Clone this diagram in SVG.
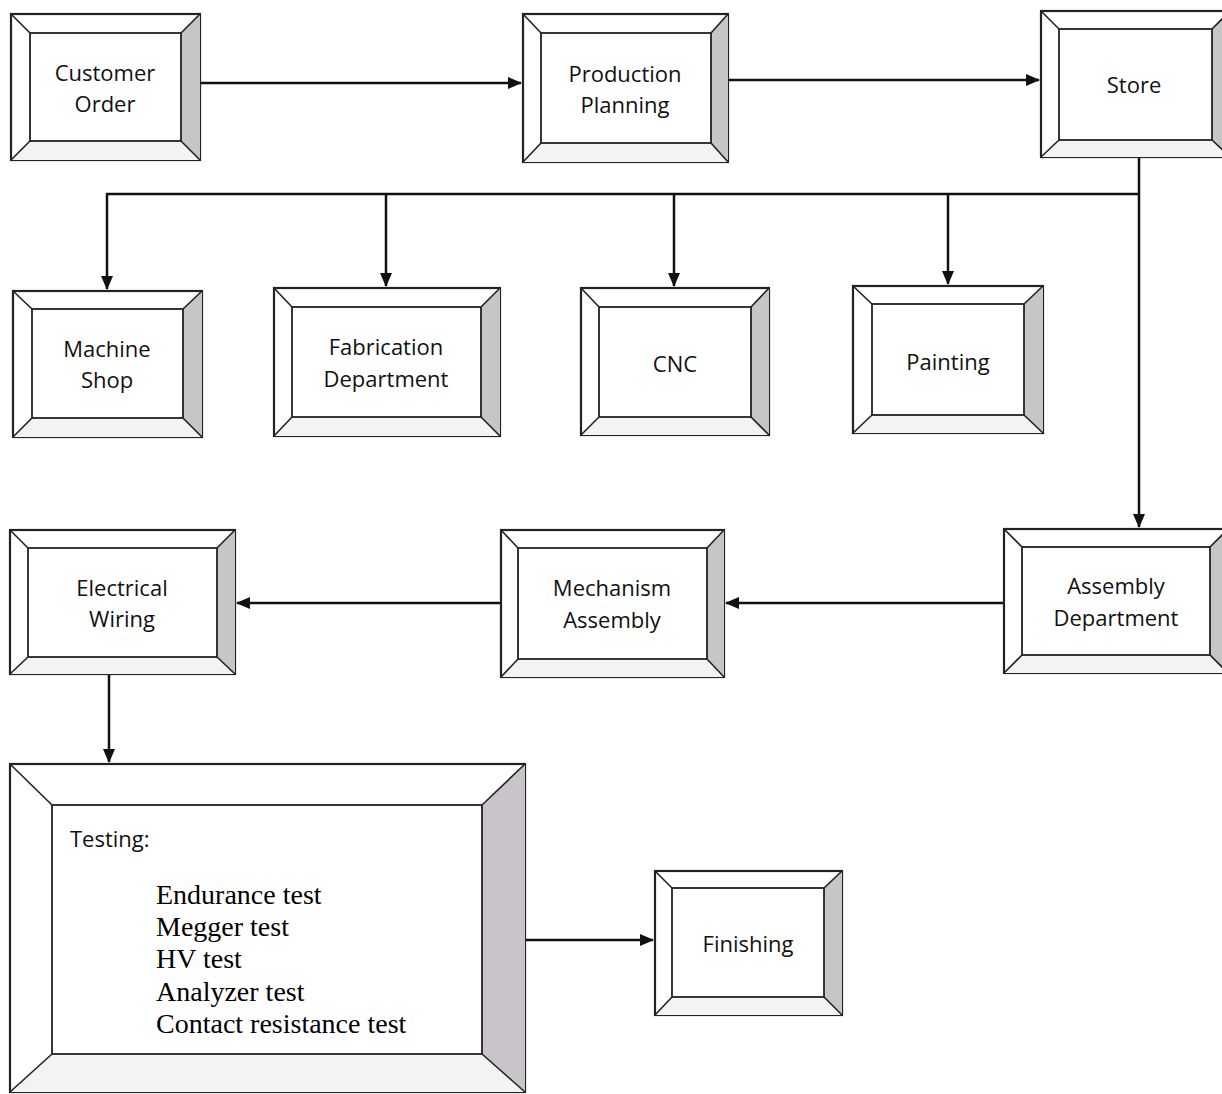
<svg xmlns="http://www.w3.org/2000/svg" width="1222" height="1094" viewBox="0 0 1222 1094">
<style>
.o{fill:#fff;stroke:#222;stroke-width:2.2}
.i{fill:#fff;stroke:#222;stroke-width:1.8}
.rb{fill:#c6c6c6;stroke:none}
.bb{fill:#f3f3f3;stroke:none}
.d{stroke:#222;stroke-width:1.6;fill:none}
.t{font-family:"Open Sans","Liberation Sans",sans-serif;font-size:22px;fill:#111;text-anchor:middle}
.ts{font-family:"Open Sans","Liberation Sans",sans-serif;font-size:22px;fill:#111}
.s{font-family:"Liberation Serif","Times New Roman",serif;font-size:28px;fill:#000}
.c{stroke:#111;stroke-width:2.5;fill:none}
</style>
<defs>
<marker id="ah" markerUnits="userSpaceOnUse" markerWidth="14" markerHeight="12" refX="13" refY="6" orient="auto">
<path d="M0,0 L14,6 L0,12 Z" fill="#111"/>
</marker>
</defs>
<rect width="1222" height="1094" fill="#fff"/>

<g id="connectors">
<line class="c" x1="200" y1="83" x2="521" y2="83" marker-end="url(#ah)"/>
<line class="c" x1="728" y1="80" x2="1039" y2="80" marker-end="url(#ah)"/>
<line class="c" x1="1139" y1="157" x2="1139" y2="527" marker-end="url(#ah)"/>
<line class="c" x1="106" y1="194" x2="1140" y2="194"/>
<line class="c" x1="107" y1="193" x2="107" y2="289" marker-end="url(#ah)"/>
<line class="c" x1="386" y1="193" x2="386" y2="286" marker-end="url(#ah)"/>
<line class="c" x1="674" y1="193" x2="674" y2="286" marker-end="url(#ah)"/>
<line class="c" x1="948" y1="193" x2="948" y2="284" marker-end="url(#ah)"/>
<line class="c" x1="1004" y1="603" x2="726" y2="603" marker-end="url(#ah)"/>
<line class="c" x1="501" y1="603" x2="237" y2="603" marker-end="url(#ah)"/>
<line class="c" x1="109" y1="674" x2="109" y2="762" marker-end="url(#ah)"/>
<line class="c" x1="525" y1="940" x2="653" y2="940" marker-end="url(#ah)"/>
</g>

<g id="customer-order">
<rect class="o" x="11" y="14" width="189" height="146"/>
<polygon class="rb" points="181,33 200,14 200,160 181,141"/>
<polygon class="bb" points="11,160 30,141 181,141 200,160"/>
<rect class="i" x="30" y="33" width="151" height="108"/>
<path class="d" d="M11,14 L30,33 M200,14 L181,33 M11,160 L30,141 M200,160 L181,141"/>
<text class="t" x="105" y="81">Customer</text>
<text class="t" x="105" y="112">Order</text>
</g>

<g id="production-planning">
<rect class="o" x="523" y="14" width="205" height="148"/>
<polygon class="rb" points="711,33 728,14 728,162 711,143"/>
<polygon class="bb" points="523,162 541,143 711,143 728,162"/>
<rect class="i" x="541" y="33" width="170" height="110"/>
<path class="d" d="M523,14 L541,33 M728,14 L711,33 M523,162 L541,143 M728,162 L711,143"/>
<text class="t" x="625" y="82">Production</text>
<text class="t" x="625" y="113">Planning</text>
</g>

<g id="store">
<rect class="o" x="1041" y="11" width="189" height="146"/>
<polygon class="rb" points="1212,29 1230,11 1230,157 1212,140"/>
<polygon class="bb" points="1041,157 1059,140 1212,140 1230,157"/>
<rect class="i" x="1059" y="29" width="153" height="111"/>
<path class="d" d="M1041,11 L1059,29 M1230,11 L1212,29 M1041,157 L1059,140 M1230,157 L1212,140"/>
<text class="t" x="1134" y="93">Store</text>
</g>

<g id="machine-shop">
<rect class="o" x="13" y="291" width="189" height="146"/>
<polygon class="rb" points="183,309 202,291 202,437 183,418"/>
<polygon class="bb" points="13,437 32,418 183,418 202,437"/>
<rect class="i" x="32" y="309" width="151" height="109"/>
<path class="d" d="M13,291 L32,309 M202,291 L183,309 M13,437 L32,418 M202,437 L183,418"/>
<text class="t" x="107" y="357">Machine</text>
<text class="t" x="107" y="388">Shop</text>
</g>

<g id="fabrication-department">
<rect class="o" x="274" y="288" width="226" height="148"/>
<polygon class="rb" points="481,307 500,288 500,436 481,417"/>
<polygon class="bb" points="274,436 292,417 481,417 500,436"/>
<rect class="i" x="292" y="307" width="189" height="110"/>
<path class="d" d="M274,288 L292,307 M500,288 L481,307 M274,436 L292,417 M500,436 L481,417"/>
<text class="t" x="386" y="355">Fabrication</text>
<text class="t" x="386" y="387">Department</text>
</g>

<g id="cnc">
<rect class="o" x="581" y="288" width="188" height="147"/>
<polygon class="rb" points="751,307 769,288 769,435 751,417"/>
<polygon class="bb" points="581,435 599,417 751,417 769,435"/>
<rect class="i" x="599" y="307" width="152" height="110"/>
<path class="d" d="M581,288 L599,307 M769,288 L751,307 M581,435 L599,417 M769,435 L751,417"/>
<text class="t" x="675" y="372">CNC</text>
</g>

<g id="painting">
<rect class="o" x="853" y="286" width="190" height="147"/>
<polygon class="rb" points="1024,304 1043,286 1043,433 1024,415"/>
<polygon class="bb" points="853,433 872,415 1024,415 1043,433"/>
<rect class="i" x="872" y="304" width="152" height="111"/>
<path class="d" d="M853,286 L872,304 M1043,286 L1024,304 M853,433 L872,415 M1043,433 L1024,415"/>
<text class="t" x="948" y="370">Painting</text>
</g>

<g id="electrical-wiring">
<rect class="o" x="10" y="530" width="225" height="144"/>
<polygon class="rb" points="217,548 235,530 235,674 217,657"/>
<polygon class="bb" points="10,674 28,657 217,657 235,674"/>
<rect class="i" x="28" y="548" width="189" height="109"/>
<path class="d" d="M10,530 L28,548 M235,530 L217,548 M10,674 L28,657 M235,674 L217,657"/>
<text class="t" x="122" y="596">Electrical</text>
<text class="t" x="122" y="627">Wiring</text>
</g>

<g id="mechanism-assembly">
<rect class="o" x="501" y="530" width="223" height="147"/>
<polygon class="rb" points="707,548 724,530 724,677 707,659"/>
<polygon class="bb" points="501,677 518,659 707,659 724,677"/>
<rect class="i" x="518" y="548" width="189" height="111"/>
<path class="d" d="M501,530 L518,548 M724,530 L707,548 M501,677 L518,659 M724,677 L707,659"/>
<text class="t" x="612" y="596">Mechanism</text>
<text class="t" x="612" y="628">Assembly</text>
</g>

<g id="assembly-department">
<rect class="o" x="1004" y="529" width="224" height="144"/>
<polygon class="rb" points="1210,547 1228,529 1228,673 1210,655"/>
<polygon class="bb" points="1004,673 1022,655 1210,655 1228,673"/>
<rect class="i" x="1022" y="547" width="188" height="108"/>
<path class="d" d="M1004,529 L1022,547 M1228,529 L1210,547 M1004,673 L1022,655 M1228,673 L1210,655"/>
<text class="t" x="1116" y="594">Assembly</text>
<text class="t" x="1116" y="626">Department</text>
</g>

<g id="testing">
<rect class="o" x="10" y="764" width="515" height="328"/>
<polygon points="482,805 525,764 525,1092 482,1054" fill="#c9c4c9"/>
<polygon class="bb" points="10,1092 52,1054 482,1054 525,1092"/>
<rect class="i" x="52" y="805" width="430" height="249"/>
<path class="d" d="M10,764 L52,805 M525,764 L482,805 M10,1092 L52,1054 M525,1092 L482,1054"/>
<text class="ts" x="70" y="847">Testing:</text>
<text class="s" x="156" y="904">Endurance test</text>
<text class="s" x="156" y="936">Megger test</text>
<text class="s" x="156" y="968">HV test</text>
<text class="s" x="156" y="1001">Analyzer test</text>
<text class="s" x="156" y="1033">Contact resistance test</text>
</g>

<g id="finishing">
<rect class="o" x="655" y="871" width="187" height="144"/>
<polygon class="rb" points="824,888 842,871 842,1015 824,997"/>
<polygon class="bb" points="655,1015 672,997 824,997 842,1015"/>
<rect class="i" x="672" y="888" width="152" height="109"/>
<path class="d" d="M655,871 L672,888 M842,871 L824,888 M655,1015 L672,997 M842,1015 L824,997"/>
<text class="t" x="748" y="952">Finishing</text>
</g>
</svg>
